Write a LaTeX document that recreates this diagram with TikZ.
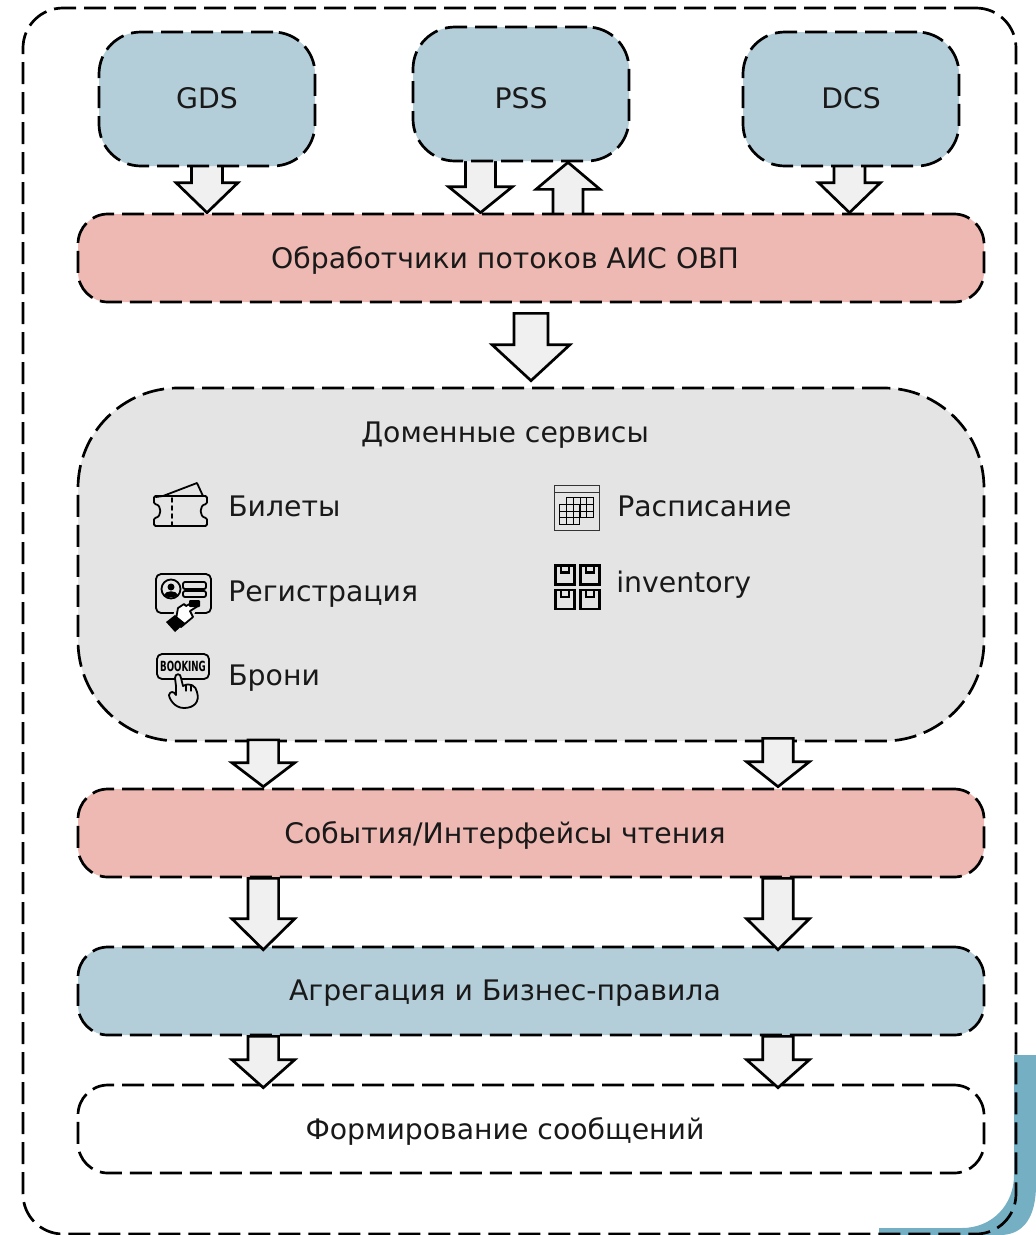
\documentclass[tikz,border=0pt]{standalone}
\usepackage{fontspec}
\setmainfont{DejaVu Sans}
\usepackage{tikz}
\usetikzlibrary{calc, backgrounds}
\definecolor{tealband}{HTML}{74AFC4}
\definecolor{blueblock}{HTML}{B3CDD9}
\definecolor{redblock}{HTML}{EEB9B3}
\definecolor{greyblock}{HTML}{E4E4E4}
\definecolor{arrowfill}{HTML}{F0F0F0}
\tikzset{
    block/.style ={rectangle, draw, line width=2.7pt, dash pattern=on 22pt off 8pt, inner sep=0pt},
    source/.style ={block, fill=blueblock, rounded corners=42pt, minimum width=216pt, minimum height=134pt},
    layer/.style ={block, rounded corners=30pt, minimum width=906pt, minimum height=88pt},
    lbl/.style ={anchor=base, inner sep=0pt, text=black!90, font=\fontsize{28.3}{33}\selectfont},
    item/.style ={lbl, anchor=base west},
    icon/.style ={draw, line width=1.8pt, line join=round, line cap=round},
    fat/.style args={#1/#2/#3}{draw, fill=arrowfill, line width=2.7pt, line join=miter,
      to path={let \p1=(\tikztostart), \p2=(\tikztotarget),
        \n1={ifthenelse(\y1>\y2,1,-1)} in
        (\x1-#1pt,\y1) -- (\x1-#1pt,\y2+\n1*#3pt) -- (\x1-#2pt,\y2+\n1*#3pt) -- (\x1,\y2)
        -- (\x1+#2pt,\y2+\n1*#3pt) -- (\x1+#1pt,\y2+\n1*#3pt) -- (\x1+#1pt,\y1) -- cycle}}
    }

\begin{document}
\begin{tikzpicture}[
      x = 1pt, y = -1pt, % picture is laid out in pixels
      semithick
    ]
    \useasboundingbox (0,0) rectangle (1036,1235);

    \node[block, rounded corners=40pt, minimum width=993pt, minimum height=1226pt] (0) at (519.5,621) {};

    \node[source] (1) at (207,99) {};
    \node[source] (2) at (521,94) {};
    \node[source] (3) at (851,99) {};
    \node[layer, fill=redblock] (4) at (531,258) {};
    \node[block, fill=greyblock, rounded corners=100pt, minimum width=906pt, minimum height=353pt] (5) at (531,564.5) {};
    \node[layer, fill=redblock] (6) at (531,833) {};
    \node[layer, fill=blueblock] (7) at (531,991) {};
    \node[layer, fill=white] (8) at (531,1129) {};

    \coordinate (c1) at (263.3,0);
    \coordinate (c2) at (778,0);

    \node[lbl] (t1) at (207,108) {GDS};
    \node[lbl] (t2) at (521,108) {PSS};
    \node[lbl] (t3) at (851,108) {DCS};
    \node[lbl] (t4) at (505,268) {Обработчики потоков АИС ОВП};
    \node[lbl] (t5) at (505,442) {Доменные сервисы};
    \node[lbl] (t6) at (505,843) {События/Интерфейсы чтения};
    \node[lbl] (t7) at (505,1000) {Агрегация и Бизнес-правила};
    \node[lbl] (t8) at (505,1139) {Формирование сообщений};

    \node[item] (i1) at (228,516) {Билеты};
    \node[item] (i2) at (228,601) {Регистрация};
    \node[item] (i3) at (228,685) {Брони};
    \node[item] (i4) at (617,516) {Расписание};
    \node[item] (i5) at (616,592) {inventory};

    \begin{pgfonlayer}{background}
    \fill[tealband] (1014,1055) -- (1036,1055) -- (1036,1185) .. controls (1036,1215) and (1025,1235) .. (1000,1235)
      -- (879,1235) -- (879,1228) -- (962,1228) .. controls (992,1228) and (1014,1205) .. (1014,1175) -- cycle;

    \path ([yshift=3pt]1.south) edge[fat=15.5/31/30] (1.south |- 4.north);
    \path ([xshift=-40.5pt,yshift=3pt]2.south) edge[fat=15/32/26] ([xshift=-40.5pt]2.south |- 4.north);
    \path ([xshift=47pt,yshift=-3pt]2.south |- 4.north) edge[fat=15/32/27] ([xshift=47pt]2.south);
    \path ([xshift=-1.5pt,yshift=3pt]3.south) edge[fat=15.5/31/30] ([xshift=-1.5pt]3.south |- 4.north);
    \end{pgfonlayer}

    \path ([yshift=-10pt]4.south) edge[fat=17/39/36] ([yshift=6pt]5.north);

    \path ([yshift=2.5pt]5.south -| c1) edge[fat=15.3/31.5/24] ([yshift=1pt]6.north -| c1);
    \path ([yshift=4pt]5.south -| c2) edge[fat=15.3/31.5/25] ([yshift=1pt]6.north -| c2);
    \path (6.south -| c1) edge[fat=15.3/31.5/31] ([yshift=-4pt]7.north -| c1);
    \path (6.south -| c2) edge[fat=15.3/31.5/31] ([yshift=-4pt]7.north -| c2);
    \path (7.south -| c1) edge[fat=15.3/31.5/28] ([yshift=-4pt]8.north -| c1);
    \path (7.south -| c2) edge[fat=15.3/31.5/28] ([yshift=-4pt]8.north -| c2);

    % ticket
    \draw[icon] (156,497) -- (163,496) -- (197,483) -- (203,496);
    \draw[icon, rounded corners=1.5pt] (154,496) -- (207,496) -- (207,504) .. controls (199,505) and (199,517) .. (207,518)
      -- (207,526) -- (154,526) -- (154,518) .. controls (162,517) and (162,505) .. (154,504) -- cycle;
    \draw[icon, dash pattern=on 4pt off 4pt] (172,498) -- (172,526);

    % card with hand
    \draw[icon, rounded corners=5pt] (156,574) rectangle (211,613);
    \draw[icon] (171,589) circle (9.5);
    \fill (171,587) circle (3.5);
    \fill (164,595) .. controls (166,590) and (176,590) .. (178,595) .. controls (175,598) and (167,598) .. (164,595);
    \draw[icon, rounded corners=2pt] (183,582) rectangle (206,589);
    \draw[icon, rounded corners=2pt] (183,591) rectangle (206,597);
    \fill[greyblock] (172,618) -- (177,605) -- (191,600) -- (197,606) -- (194,615) -- (180,628) -- cycle;
    \draw[icon, fill=white] (176,619) -- (178,608) -- (184,604) -- (186,606) -- (195,601) -- (198,606)
      -- (190,611) -- (193,617) -- (181,627) -- cycle;
    \fill (166,622) -- (175,615) -- (185,623) -- (175,632) -- cycle;
    \fill[rounded corners=1pt] (189,600) rectangle (200,607);

    % booking button
    \draw[icon, rounded corners=5pt] (157,654) rectangle (209,679);
    \node[inner sep=0pt, xscale=0.62, transform shape, font=\fontsize{14}{14}\selectfont\bfseries] (9) at (183,666.5) {BOOKING};
    \draw[icon, fill=greyblock] (176,686) -- (175,678) .. controls (175,673) and (181,673) .. (181,678) -- (183,686)
      .. controls (190,682) and (196,686) .. (197,692) .. controls (200,702) and (194,708) .. (184,708)
      .. controls (174,708) and (169,698) .. (169,695) .. controls (170,691) and (174,691) .. (176,695) -- (176,686);
    \draw[line width=1.2pt, line cap=round] (186,685) -- (186,691) (191,686) -- (191,691);

    % calendar
    \draw[line width=1pt, draw=black!80] (554,485) rectangle (599,530);
    \draw[line width=1pt, draw=black!80] (554,492) -- (599,492);
    \foreach \col in {0,...,3}
      \foreach \row in {0,...,2}
        \draw[line width=1pt] ({566.7+\col*6.7},{497.7+\row*6.7}) rectangle ++(6.7,6.7);
    \foreach \col in {0,...,2}
      \foreach \row in {0,...,2}
        \draw[line width=1pt] ({559.5+\col*6.8},{504.3+\row*6.8}) rectangle ++(6.8,6.8);

    % boxes
    \foreach \bx in {0,1}
      \foreach \by in {0,1}
        \draw[line width=2.6pt] ({555.5+\bx*25},{565.5+\by*24.5}) rectangle ++(19,19)
          ({561+\bx*25},{565.5+\by*24.5}) -- ++(0,7) -- ++(8,0) -- ++(0,-7);
\end{tikzpicture}
\end{document}
